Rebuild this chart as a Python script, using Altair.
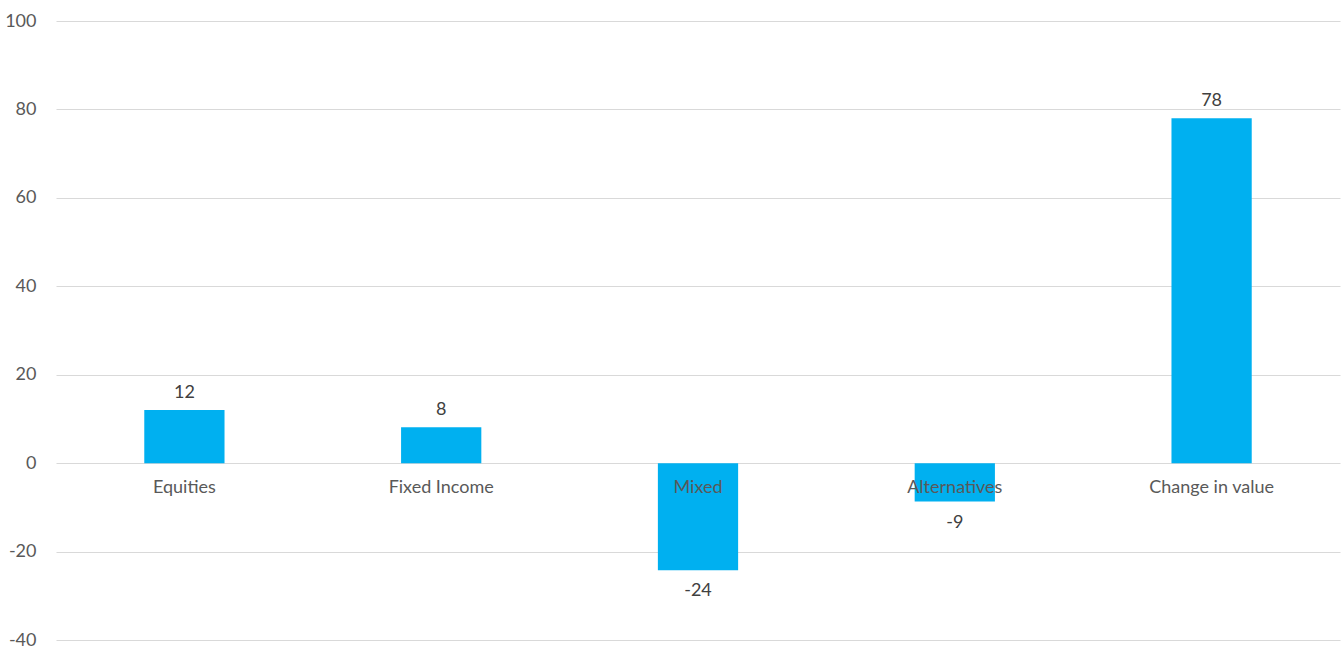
import altair as alt
import pandas as pd

categories = ["Equities", "Fixed Income", "Mixed", "Alternatives", "Change in value"]
values = [12.0, 8.1, -24.2, -8.7, 78.0]
y_ticks = [-40, -20, 0, 20, 40, 60, 80, 100]

df = pd.DataFrame({"category": categories, "value": values})

FONT = "Lato"
FS = 18
x = alt.X("category:N", sort=categories, axis=None,
          scale=alt.Scale(paddingInner=0.6875, paddingOuter=0.34375))

bars = alt.Chart(df).mark_bar(color="#00B0F0").encode(
    x=x,
    y=alt.Y("value:Q",
            scale=alt.Scale(domain=[-40, 100], nice=False),
            axis=alt.Axis(values=y_ticks, title=None, domain=False, ticks=False,
                          labelPadding=20, labelFont=FONT, labelFontSize=FS,
                          labelExpr="'' + datum.value",
                          labelColor="#595959", gridColor="#D9D9D9", gridWidth=1)),
)

cat_labels = alt.Chart(df).mark_text(
    font=FONT, fontSize=FS, color="#595959", baseline="middle", dy=25
).encode(x=x, y=alt.datum(0), text="category:N")

lab = "'' + round(datum.value)"

pos_labels = alt.Chart(df).transform_filter("datum.value >= 0").transform_calculate(
    lab=lab
).mark_text(
    font=FONT, fontSize=FS, color="#404040", baseline="middle", dy=-17
).encode(x=x, y="value:Q", text="lab:N")

neg_labels = alt.Chart(df).transform_filter("datum.value < 0").transform_calculate(
    lab=lab
).mark_text(
    font=FONT, fontSize=FS, color="#404040", baseline="middle", dy=21
).encode(x=x, y="value:Q", text="lab:N")

chart = alt.layer(bars, cat_labels, pos_labels, neg_labels).properties(
    width=1284, height=619,
    autosize=alt.AutoSizeParams(type="none"),
    padding={"left": 56, "top": 21, "right": 1, "bottom": 8},
    background="white",
).configure_view(stroke=None)

chart.save("out.html", embed_options={"renderer": "svg", "actions": False})
